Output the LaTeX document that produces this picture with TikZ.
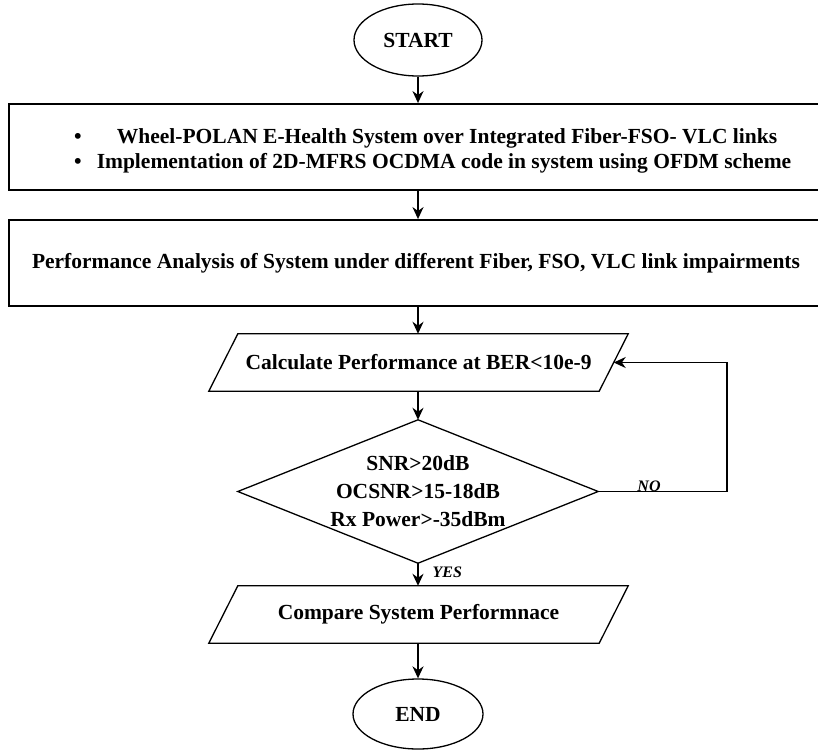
\documentclass[tikz,border=0pt]{standalone}
\usepackage{fontspec}
\setmainfont{Liberation Serif}
\usetikzlibrary{shapes.geometric,arrows.meta,calc}
\tikzset{
  term/.style={ellipse, draw, line width=1.3pt, minimum width=128pt, minimum height=72pt, inner sep=0pt, font=\fontsize{21.5}{25}\selectfont\bfseries},
  bigbox/.style={rectangle, draw, line width=1.8pt, minimum width=810pt, minimum height=86pt, inner sep=0pt},
  txt/.style={font=\fontsize{21.5}{25}\selectfont\bfseries, inner sep=0pt},
  hold/.style={rectangle, minimum width=390pt, minimum height=57pt, inner sep=0pt, font=\fontsize{21.5}{25}\selectfont\bfseries},
  decbox/.style={rectangle, minimum width=360pt, minimum height=143pt, inner sep=0pt, align=center, font=\fontsize{21.5}{28}\selectfont\bfseries},
  shapeline/.style={line width=1.3pt, line join=miter},
  arr/.style={line width=1.7pt, -{Stealth[length=12pt,width=11pt]}},
  lbl/.style={font=\fontsize{16}{18}\selectfont\bfseries\itshape, inner sep=0.5pt}
}
\begin{document}
\begin{tikzpicture}[x=1pt,y=-1pt]
\useasboundingbox (0,0) rectangle (818,752);
\fill[white] (0,0) rectangle (818,752);
\node[term] (start) at (418,40) {START};
\node[bigbox] (b1) at (414,147) {};
\node[txt] (b1dot1) at (78,138) {•};
\node[txt] (b1dot2) at (78,163) {•};
\node[txt] (b1l1) at (447,138) {Wheel-POLAN E-Health System over Integrated Fiber-FSO- VLC links};
\node[txt] (b1l2) at (444,163) {Implementation of 2D-MFRS OCDMA code in system using OFDM scheme};
\node[bigbox] (b2) at (414,263) {};
\node[txt] (b2t) at (416,263) {Performance Analysis of System under different Fiber, FSO, VLC link impairments};
\node[hold] (calc) at (418.5,362.5) {Calculate Performance at BER<10e-9};
\draw[shapeline] ($(calc.north west)+(14.5,0)$) -- ($(calc.north east)+(14.5,0)$) -- ($(calc.south east)+(-14.5,0)$) -- ($(calc.south west)+(-14.5,0)$) -- cycle;
\node[decbox] (dec) at (418,491.5) {SNR>20dB\\OCSNR>15-18dB\\Rx Power>-35dBm};
\draw[shapeline] (dec.north) -- (dec.east) -- (dec.south) -- (dec.west) -- cycle;
\node[hold] (cmp) at (418.5,614.5) {Compare System Performnace};
\draw[shapeline] ($(cmp.north west)+(14.5,0)$) -- ($(cmp.north east)+(14.5,0)$) -- ($(cmp.south east)+(-14.5,0)$) -- ($(cmp.south west)+(-14.5,0)$) -- cycle;
\node[term, minimum width=130pt, minimum height=70pt] (end) at (418,714) {END};
\coordinate (loopA) at (727,491.5);
\coordinate (loopB) at (727,362.5);
\draw[arr] (start.south) -- (b1.north -| start);
\draw[arr] (b1.south -| start) -- (b2.north -| start);
\draw[arr] (b2.south -| start) -- (calc.north -| start);
\draw[arr] (calc.south -| start) -- (dec.north);
\draw[arr] (dec.south) -- (cmp.north -| start);
\draw[arr] (cmp.south -| start) -- (end.north);
\draw[arr] (dec.east) -- (loopA) -- (loopB) -- (calc.east);
\node[lbl, anchor=south] (no) at (649,492) {NO};
\node[lbl, anchor=west] (yes) at (432,572) {YES};
\end{tikzpicture}
\end{document}
